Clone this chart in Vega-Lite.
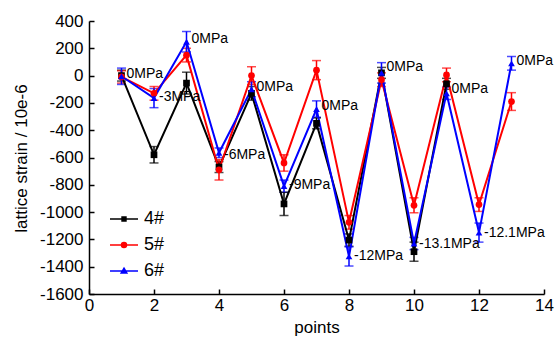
{
  "$schema": "https://vega.github.io/schema/vega-lite/v6.json",
  "width": 455,
  "height": 273,
  "autosize": {"type": "none"},
  "padding": {"left": 89, "top": 21, "right": 13, "bottom": 45},
  "background": "white",
  "config": {
    "view": {"stroke": null},
    "font": "Liberation Sans",
    "axis": {
      "grid": false,
      "domainColor": "black",
      "domainWidth": 1.5,
      "tickColor": "black",
      "tickWidth": 1.5,
      "tickSize": -5,
      "labelFont": "Liberation Sans",
      "labelFontSize": 17,
      "labelColor": "black",
      "titleFont": "Liberation Sans",
      "titleFontSize": 17,
      "titleFontWeight": "normal",
      "titleColor": "black",
      "labelFlush": false,
      "labelOverlap": false
    }
  },
  "datasets": {
    "main": [
      {"s": "4#", "x": 1, "v": 0, "e": 40},
      {"s": "4#", "x": 2, "v": -580, "e": 60},
      {"s": "4#", "x": 3, "v": -55, "e": 80},
      {"s": "4#", "x": 4, "v": -670, "e": 40},
      {"s": "4#", "x": 5, "v": -130, "e": 50},
      {"s": "4#", "x": 6, "v": -940, "e": 85},
      {"s": "4#", "x": 7, "v": -350, "e": 40},
      {"s": "4#", "x": 8, "v": -1205, "e": 45},
      {"s": "4#", "x": 9, "v": 20, "e": 40},
      {"s": "4#", "x": 10, "v": -1290, "e": 70},
      {"s": "4#", "x": 11, "v": -60, "e": 40},
      {"s": "5#", "x": 1, "v": -10, "e": 45},
      {"s": "5#", "x": 2, "v": -130, "e": 50},
      {"s": "5#", "x": 3, "v": 150, "e": 50},
      {"s": "5#", "x": 4, "v": -690, "e": 75},
      {"s": "5#", "x": 5, "v": 0, "e": 65},
      {"s": "5#", "x": 6, "v": -640, "e": 60},
      {"s": "5#", "x": 7, "v": 40, "e": 70},
      {"s": "5#", "x": 8, "v": -1075, "e": 50},
      {"s": "5#", "x": 9, "v": -30, "e": 50},
      {"s": "5#", "x": 10, "v": -950, "e": 55},
      {"s": "5#", "x": 11, "v": 5, "e": 50},
      {"s": "5#", "x": 12, "v": -945, "e": 50},
      {"s": "5#", "x": 13, "v": -190, "e": 65},
      {"s": "6#", "x": 1, "v": -5, "e": 60},
      {"s": "6#", "x": 2, "v": -165, "e": 70},
      {"s": "6#", "x": 3, "v": 248, "e": 75},
      {"s": "6#", "x": 4, "v": -565, "e": 35},
      {"s": "6#", "x": 5, "v": -100, "e": 55},
      {"s": "6#", "x": 6, "v": -810, "e": 45},
      {"s": "6#", "x": 7, "v": -245, "e": 60},
      {"s": "6#", "x": 8, "v": -1325, "e": 70},
      {"s": "6#", "x": 9, "v": 20, "e": 75},
      {"s": "6#", "x": 10, "v": -1230, "e": 45},
      {"s": "6#", "x": 11, "v": -130, "e": 45},
      {"s": "6#", "x": 12, "v": -1150, "e": 70},
      {"s": "6#", "x": 13, "v": 90, "e": 50}
    ],
    "labels": [
      {"x": 1, "v": 10, "t": "0MPa"},
      {"x": 2, "v": -160, "t": "-3MPa"},
      {"x": 3, "v": 270, "t": "0MPa"},
      {"x": 4, "v": -580, "t": "-6MPa"},
      {"x": 5, "v": -85, "t": "0MPa"},
      {"x": 6, "v": -800, "t": "-9MPa"},
      {"x": 7, "v": -225, "t": "0MPa"},
      {"x": 8, "v": -1320, "t": "-12MPa"},
      {"x": 9, "v": 65, "t": "0MPa"},
      {"x": 10, "v": -1235, "t": "-13.1MPa"},
      {"x": 11, "v": -100, "t": "0MPa"},
      {"x": 12, "v": -1150, "t": "-12.1MPa"},
      {"x": 13, "v": 105, "t": "0MPa"}
    ]
  },
  "encoding": {
    "x": {
      "field": "x",
      "type": "quantitative",
      "scale": {"domain": [0, 14], "nice": false},
      "axis": {"values": [0, 2, 4, 6, 8, 10, 12, 14], "title": "points", "labelPadding": 8, "titleBaseline": "alphabetic", "titleY": 38}
    },
    "y": {
      "field": "v",
      "type": "quantitative",
      "scale": {"domain": [-1600, 400], "nice": false, "zero": false},
      "axis": {
        "values": [-1600, -1400, -1200, -1000, -800, -600, -400, -200, 0, 200, 400],
        "labelExpr": "datum.value + ''",
        "title": "lattice strain / 10e-6",
        "labelPadding": 11,
        "titleAngle": -90,
        "titleX": -63,
        "titleY": 137,
        "titleAlign": "center",
        "titleBaseline": "alphabetic"
      }
    }
  },
  "layer": [
    {
      "data": {"name": "main"},
      "mark": {"type": "errorbar", "ticks": {"size": 9, "thickness": 1.5}, "thickness": 1.5},
      "encoding": {
        "yError": {"field": "e"},
        "color": {"field": "s", "type": "nominal", "scale": {"domain": ["4#", "5#", "6#"], "range": ["#000000", "#ff0000", "#0000ff"]}}
      }
    },
    {
      "data": {"name": "main"},
      "mark": {"type": "line", "strokeWidth": 2},
      "encoding": {
        "color": {
          "field": "s",
          "type": "nominal",
          "legend": {
            "title": null,
            "orient": "none",
            "legendX": 20,
            "legendY": 183,
            "symbolSize": 784,
            "symbolStrokeWidth": 1.5,
            "rowPadding": 2,
            "labelFont": "Liberation Sans",
            "labelFontSize": 18,
            "labelColor": "black",
            "labelOffset": 5,
            "encode": {
              "symbols": {
                "update": {
                  "shape": {"signal": "datum.value === '4#' ? 'M-1,0H1M-0.14,-0.14H0.14V0.14H-0.14Z' : datum.value === '5#' ? 'M-1,0H1M-0.18,0A0.18,0.18,0,1,0,0.18,0A0.18,0.18,0,1,0,-0.18,0Z' : 'M-1,0H1M0,-0.2L0.2,0.14H-0.2Z'"},
                  "fill": {"scale": "color", "field": "value"},
                  "stroke": {"scale": "color", "field": "value"},
                  "strokeWidth": {"value": 1.5},
                  "opacity": {"value": 1},
                  "fillOpacity": {"value": 1},
                  "strokeOpacity": {"value": 1}
                }
              }
            }
          }
        }
      }
    },
    {
      "data": {"name": "main"},
      "transform": [{"filter": "datum.s === '4#'"}],
      "mark": {"type": "point", "filled": true, "opacity": 1, "size": 45, "shape": "square"},
      "encoding": {"color": {"field": "s", "type": "nominal"}}
    },
    {
      "data": {"name": "main"},
      "transform": [{"filter": "datum.s === '5#'"}],
      "mark": {"type": "point", "filled": true, "opacity": 1, "size": 45, "shape": "circle"},
      "encoding": {"color": {"field": "s", "type": "nominal"}}
    },
    {
      "data": {"name": "main"},
      "transform": [{"filter": "datum.s === '6#'"}],
      "mark": {"type": "point", "filled": true, "opacity": 1, "size": 45, "shape": "triangle-up"},
      "encoding": {"color": {"field": "s", "type": "nominal"}}
    },
    {
      "data": {"name": "labels"},
      "mark": {"type": "text", "align": "left", "baseline": "middle", "dx": 5, "fontSize": 14, "font": "Liberation Sans", "color": "black"},
      "encoding": {"text": {"field": "t"}}
    }
  ]
}
